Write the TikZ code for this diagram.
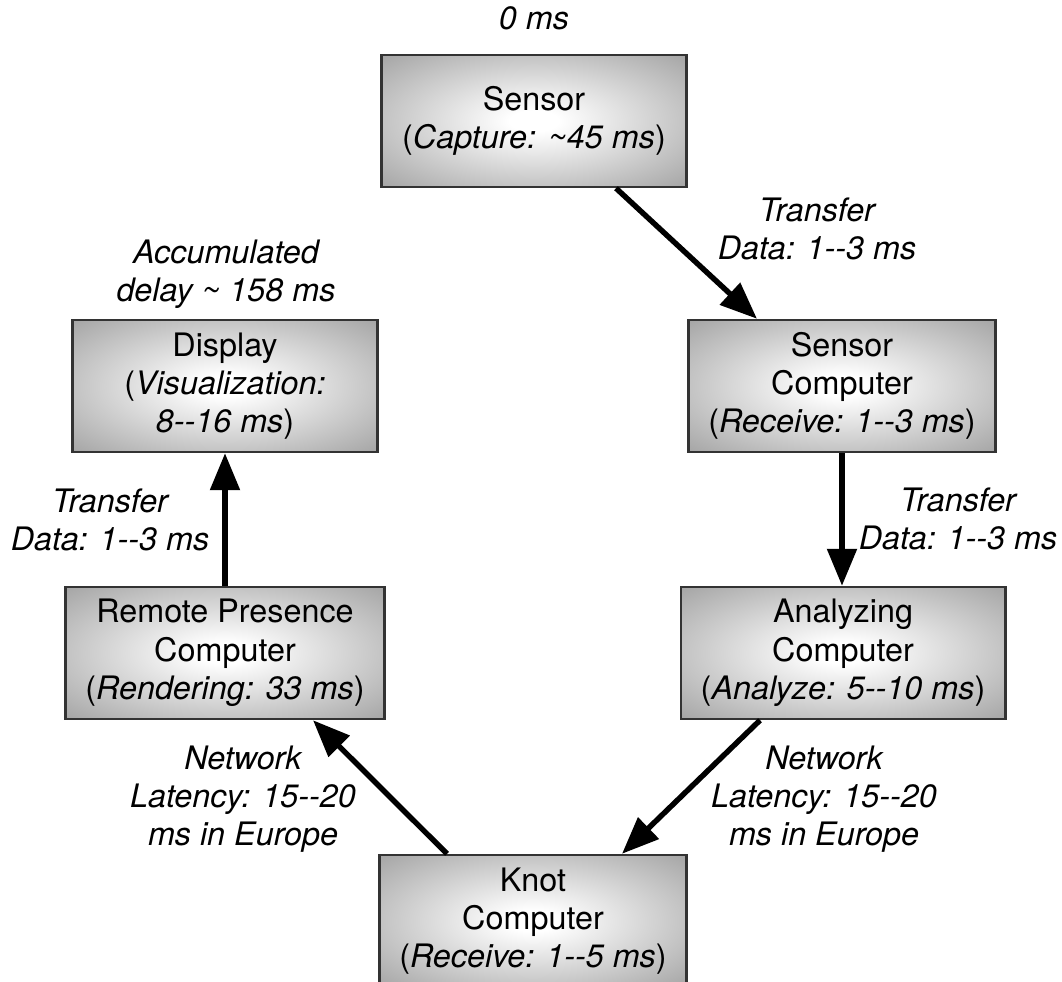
\documentclass[tikz,border=0pt]{standalone}
\usepackage{fontspec}
\setmainfont{TeX Gyre Heros}
\usetikzlibrary{positioning,arrows.meta,calc}

\pgfdeclareradialshading{boxglow}{\pgfpoint{0bp}{0bp}}{color(0bp)=(white); color(4bp)=(white); color(36bp)=(black!36); color(50bp)=(black!36)}

\begin{document}
\begin{tikzpicture}[x=0.02cm,y=-0.02cm,
	every node/.style={font=\fontsize{18.4}{21.8}\selectfont,align=center},
	stage/.style={draw=black!80,line width=1.4pt,shading=boxglow,minimum width=6.1cm,minimum height=2.64cm,inner xsep=0.4cm},
	lbl/.style={font=\fontsize{18.4}{21.8}\selectfont\itshape},
	arr/.style={line width=3.1pt,-{Triangle[length=0.74cm,width=0.58cm]}}]
			\useasboundingbox (0,0) rectangle (1062,981);

			%stages
			\node [stage] (sen) at (534,121) {Sensor\\(\textit{Capture: \textasciitilde45 ms})};
			\node [stage] (scomp) at (842,386) {Sensor\\Computer\\(\textit{Receive: 1-{}-3 ms})};
			\node [stage] (ana) at (843,653) {Analyzing\\Computer\\(\textit{Analyze: 5-{}-10 ms})};
			\node [stage] (knot) at (533,921) {Knot\\Computer\\(\textit{Receive: 1-{}-5 ms})};
			\node [stage] (rem) at (225,653) {Remote Presence\\Computer\\(\textit{Rendering: 33 ms})};
			\node [stage] (disp) at (225,386) {Display\\(\textit{Visualization:}\\\textit{8-{}-16 ms})};

			%timing labels
			\node [lbl] (start) at (534,18) {0 ms};
			\node [lbl] (acc) at (226,274) {Accumulated\\delay \textasciitilde{} 158 ms};
			\node [lbl] (tr1) at (817,229) {Transfer\\Data: 1-{}-3 ms};
			\node [lbl] (tr2) at (958,519) {Transfer\\Data: 1-{}-3 ms};
			\node [lbl] (tr3) at (110,520) {Transfer\\Data: 1-{}-3 ms};
			\node [lbl] (net1) at (824,799) {Network\\Latency: 15-{}-20\\ms in Europe};
			\node [lbl] (net2) at (243,799) {Network\\Latency: 15-{}-20\\ms in Europe};

			%edges
			\draw [arr] ($(sen.south)+(82,0)$) -- ($(scomp.north)+(-85,0)$);
			\draw [arr] (scomp.south) -- (scomp.south |- ana.north);
			\draw [arr] ($(ana.south)+(-83,0)$) -- ($(knot.north)+(89,0)$);
			\draw [arr] ($(knot.north)+(-86,0)$) -- ($(rem.south)+(88,0)$);
			\draw [arr] (rem.north) -- (rem.north |- disp.south);
\end{tikzpicture}
\end{document}
